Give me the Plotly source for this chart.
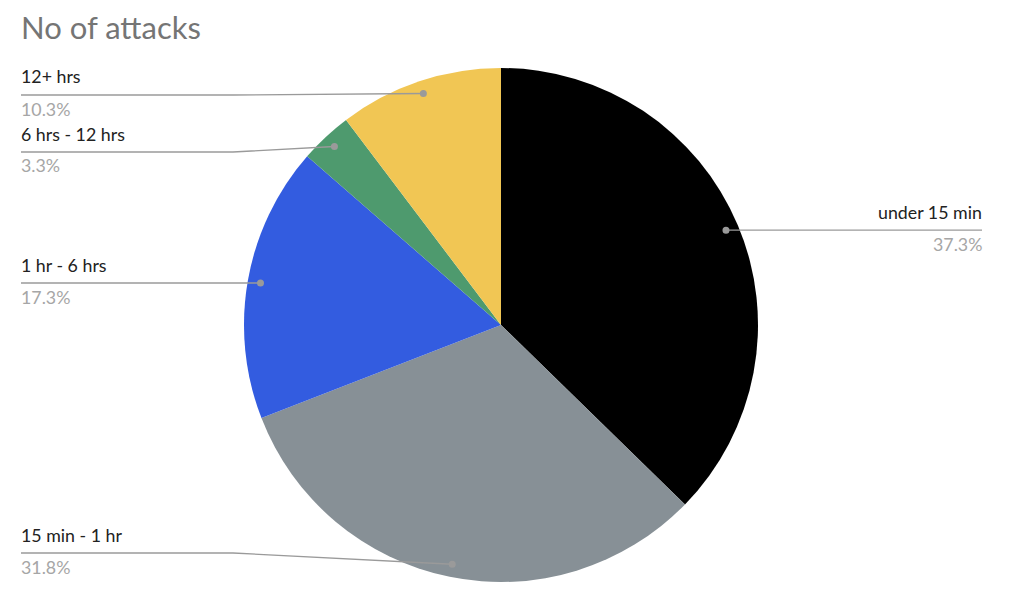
import math
import plotly.graph_objects as go

labels = ["under 15 min", "15 min - 1 hr", "1 hr - 6 hrs", "6 hrs - 12 hrs", "12+ hrs"]
values = [37.3, 31.8, 17.3, 3.3, 10.3]
colors = ["#000000", "#879096", "#335ce0", "#4e9a6e", "#f1c654"]

W, H = 1024, 605
# pie domain (paper)
dx0, dx1 = 244 / W, 758 / W
dy0, dy1 = 23 / H, 537 / H

fig = go.Figure(go.Pie(
    labels=labels, values=values, marker=dict(colors=colors, line=dict(width=0)),
    sort=False, direction="clockwise", rotation=0, textinfo="none",
    hoverinfo="label+percent", domain=dict(x=[dx0, dx1], y=[dy0, dy1]),
    showlegend=False,
))

# pie geometry in pixels
cx = (dx0 + dx1) / 2 * W
cy = (1 - (dy0 + dy1) / 2) * H
r = min((dx1 - dx0) * W, (dy1 - dy0) * H) / 2

# label layout: (side, line y pixel)
label_pos = {
    "under 15 min": ("right", None),
    "15 min - 1 hr": ("left", 553),
    "1 hr - 6 hrs": ("left", None),
    "6 hrs - 12 hrs": ("left", 152),
    "12+ hrs": ("left", 95),
}

shapes = []
annotations = []
total = sum(values)
cum = 0
font = "Lato, 'Open Sans', sans-serif"
line_col = "#9a9a9a"
for lab, v in zip(labels, values):
    mid = (cum + v / 2) / total * 2 * math.pi
    cum += v
    px = cx + 0.95 * r * math.sin(mid)
    py = cy - 0.95 * r * math.cos(mid)
    side, ly = label_pos[lab]
    if ly is None:
        ly = py
    def P(x, y):
        return x / W, 1 - y / H
    if side == "left":
        x0 = 21
        xb = 233
        pts = [P(x0, ly), P(xb, ly), P(px, py)]
        path = "M {} {} L {} {} L {} {}".format(*pts[0], *pts[1], *pts[2])
        xa, anchor = (x0 - 2) / W, "left"
    else:
        x0 = 982
        pts = [P(px, py), P(x0, ly)]
        path = "M {} {} L {} {}".format(*pts[0], *pts[1])
        xa, anchor = (x0 + 2) / W, "right"
    shapes.append(dict(type="path", xref="paper", yref="paper", path=path,
                       line=dict(color=line_col, width=1.3)))
    dpx, dpy = P(px, py)
    shapes.append(dict(type="circle", xref="paper", yref="paper",
                       x0=dpx - 3.5 / W, x1=dpx + 3.5 / W, y0=dpy - 3.5 / H, y1=dpy + 3.5 / H,
                       fillcolor=line_col, line=dict(width=0)))
    annotations.append(dict(x=xa, y=1 - (ly - 5.5) / H, xref="paper", yref="paper",
                            text=lab, showarrow=False, xanchor=anchor, yanchor="bottom",
                            font=dict(family=font, size=17.8, color="#222222")))
    annotations.append(dict(x=xa, y=1 - (ly + 0.5) / H, xref="paper", yref="paper",
                            text=f"{v:.1f}%", showarrow=False, xanchor=anchor, yanchor="top",
                            font=dict(family=font, size=17.8, color="#a6a6a6")))

annotations.append(dict(x=19 / W, y=1 - 27 / H, xref="paper", yref="paper", text="No of attacks",
                        showarrow=False, xanchor="left", yanchor="middle",
                        font=dict(family=font, size=31, color="#757575")))

fig.update_layout(
    width=W, height=H, margin=dict(l=0, r=0, t=0, b=0),
    paper_bgcolor="white", plot_bgcolor="white",
    shapes=shapes, annotations=annotations,
)
fig.write_html("out.html", config={"displayModeBar": False},
               post_script="document.body.style.margin='0px';")
